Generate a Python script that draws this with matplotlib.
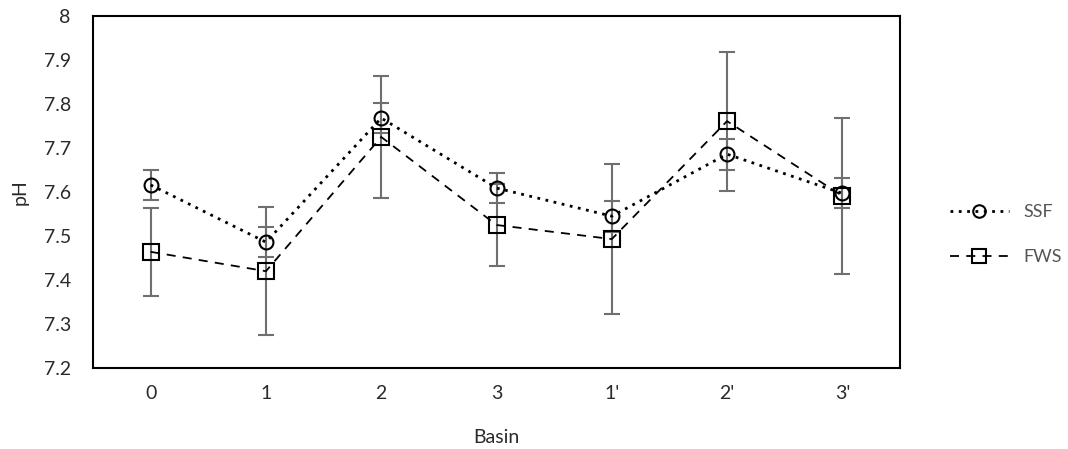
import numpy as np
import matplotlib.pyplot as plt
from matplotlib.lines import Line2D

plt.rcParams['font.family'] = ['Lato', 'DejaVu Sans']

# data
basins = ["0", "1", "2", "3", "1'", "2'", "3'"]
ssf = [7.616, 7.486, 7.768, 7.609, 7.545, 7.686, 7.597]
ssf_err = [0.034, 0.034, 0.034, 0.034, 0.035, 0.035, 0.034]
fws = [7.464, 7.420, 7.725, 7.525, 7.493, 7.761, 7.591]
fws_err = [0.100, 0.145, 0.138, 0.093, 0.171, 0.158, 0.177]

x = np.arange(len(basins))
grey = '#6f6f6f'
txt = '#2a2a2a'

fig = plt.figure(figsize=(10.68, 4.49), dpi=100)
ax = fig.add_axes([0.0871, 0.1804, 0.7556, 0.784])

# error bars
ax.errorbar(x, fws, yerr=fws_err, fmt='none', ecolor=grey, elinewidth=1.5,
            capsize=5.5, capthick=1.5, zorder=2)
ax.errorbar(x, ssf, yerr=ssf_err, fmt='none', ecolor=grey, elinewidth=1.5,
            capsize=5.5, capthick=1.5, zorder=2)

# lines
ax.plot(x, ssf, linestyle=(0, (1, 2)), color='black', linewidth=2,
        marker='o', markersize=10, markerfacecolor='none',
        markeredgecolor='black', markeredgewidth=1.5, zorder=3)
ax.plot(x, fws, linestyle=(0, (5, 4)), color='black', linewidth=1.3,
        marker='s', markersize=12, markerfacecolor='none',
        markeredgecolor='black', markeredgewidth=1.5, zorder=3)

ax.set_xlim(-0.5, len(basins) - 0.5)
ax.set_ylim(7.2, 8.0)
ax.set_yticks(np.arange(7.2, 8.01, 0.1))
ax.set_yticklabels(['7.2', '7.3', '7.4', '7.5', '7.6', '7.7', '7.8', '7.9', '8'])
ax.set_xticks(x)
ax.set_xticklabels(basins)
ax.tick_params(length=0, labelsize=14, colors=txt)
ax.tick_params(axis='x', pad=12)
ax.tick_params(axis='y', pad=16)
for s in ax.spines.values():
    s.set_linewidth(1.5)
    s.set_color('black')

ax.set_xlabel('Basin', fontsize=14, color=txt, labelpad=20)
ax.set_ylabel('pH', fontsize=14, color=txt, labelpad=11)

handles = [
    Line2D([], [], linestyle=(0, (1, 2)), color='black', linewidth=2,
           marker='o', markersize=9, markerfacecolor='none',
           markeredgewidth=1.5),
    Line2D([], [], linestyle=(0, (5, 4)), color='black', linewidth=1.3,
           marker='s', markersize=10, markerfacecolor='none',
           markeredgewidth=1.5),
]
leg = fig.legend(handles, ['SSF', 'FWS'], loc='center left',
                 bbox_to_anchor=(0.874, 0.477), frameon=False, fontsize=13,
                 handlelength=3.3, labelspacing=1.6, handletextpad=0.8)
for t in leg.get_texts():
    t.set_color('#555555')

fig.savefig('out.png', dpi=100)
